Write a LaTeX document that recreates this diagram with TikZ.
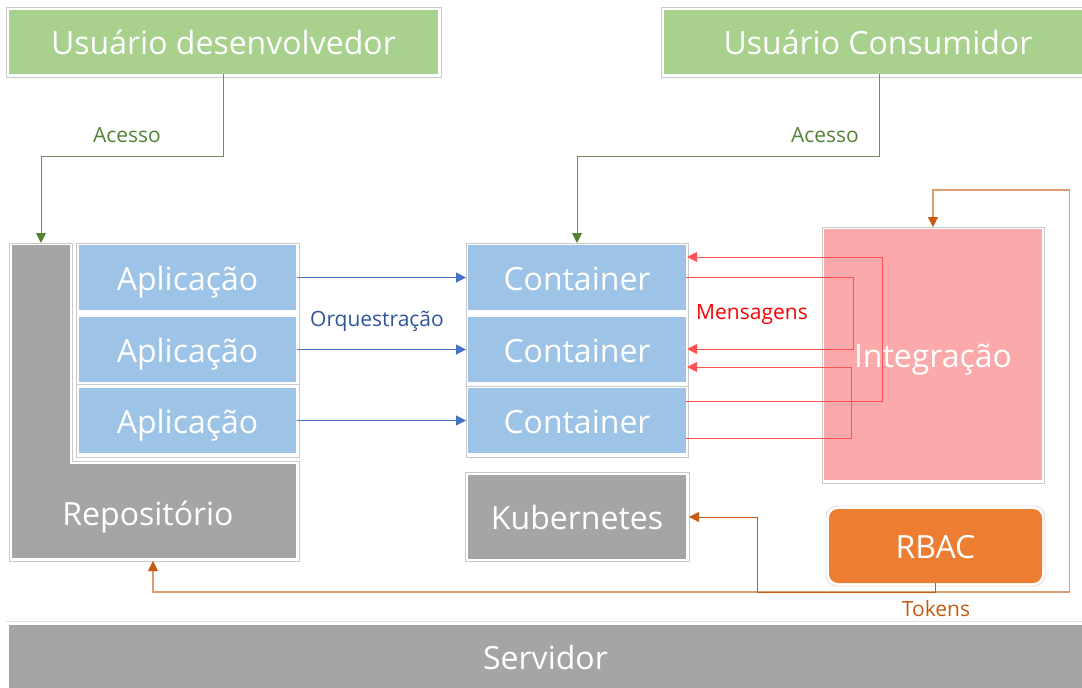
\documentclass[tikz,border=0pt]{standalone}
\usepackage{fontspec}
\setmainfont{Open Sans}
\usetikzlibrary{arrows.meta}

\definecolor{usergreen}{HTML}{A9D18E}
\definecolor{appblue}{HTML}{9DC3E6}
\definecolor{basegray}{HTML}{A5A5A5}
\definecolor{integpink}{HTML}{FBA9AA}
\definecolor{rbacorange}{HTML}{ED7D31}
\definecolor{framegray}{HTML}{C9C9C9}
\definecolor{accline}{HTML}{6F8C57}
\definecolor{acctext}{HTML}{548235}
\definecolor{orchline}{HTML}{4472C4}
\definecolor{orchtext}{HTML}{2F5597}
\definecolor{msgline}{HTML}{FF5353}
\definecolor{msgtext}{HTML}{FF0000}
\definecolor{tokline}{HTML}{DC9D74}
\definecolor{tokdark}{HTML}{C55A11}

\newcommand\bigfont{\fontsize{32}{38}\selectfont}
\newcommand\smallfont{\fontsize{21}{25}\selectfont}

\tikzset{
  fillbox/.style={inner sep=0pt, outer sep=0pt, text=white, font=\bigfont,
    text height=30pt, text depth=5pt},
  frameline/.style={draw=framegray, line width=0.9pt},
  lbl/.style={inner sep=0pt, font=\smallfont, text height=15pt, text depth=0pt},
  tip/.style={-{Triangle[length=10pt,width=10pt]}},
  acc/.style={draw=accline, line width=1pt, arrows={-{Triangle[length=10pt,width=10pt,color=acctext]}}},
  orch/.style={draw=orchline, line width=1pt, tip},
  msg/.style={draw=msgline, line width=1pt, tip},
  tok/.style={draw=tokline, line width=1.1pt},
  tokarrow/.style={draw=tokdark, line width=1pt, tip},
}

\begin{document}
\begin{tikzpicture}[x=1pt,y=-1pt]
\useasboundingbox (0,0) rectangle (1082,688);
\clip (0,0) rectangle (1082,688);

% ---------- outlines behind the boxes ----------
\draw[frameline] (6,7) rectangle (441,77);
\draw[frameline] (661,7) rectangle (1090,77);
\draw[frameline] (9,243) -- (72,243) -- (72,461) -- (299,461) -- (299,561) -- (9,561) -- cycle;
\draw[frameline] (76,243) rectangle (299,384);
\draw[frameline] (76,384) rectangle (299,457);
\draw[frameline] (466,243) rectangle (688,386);
\draw[frameline] (466,386) rectangle (688,457);
\draw[frameline] (465,472) rectangle (689,561);
\draw[frameline] (822,227) rectangle (1044,483);
\draw[draw=framegray!60, line width=0.9pt, rounded corners=11pt] (826,506) rectangle (1045,586);
\draw[draw=framegray!60, line width=1pt] (6,621) -- (1090,621);

% ---------- users ----------
\node[fillbox, fill=usergreen, minimum width=429pt, minimum height=64pt] (dev) at (223.5,42) {Usuário desenvolvedor};
\node[fillbox, fill=usergreen, minimum width=418pt, minimum height=64pt] (cons) at (873,42) {\hspace*{10pt}Usuário Consumidor};

% ---------- repository (L shape) ----------
\node[fillbox, fill=basegray, minimum width=58pt, minimum height=219pt] (repostrip) at (41,354.5) {};
\node[fillbox, fill=basegray, minimum width=284pt, minimum height=94pt] (repo) at (154,511) {};
\node[lbl, font=\bigfont, text=white, text height=22pt] (repolabel) at (148,514) {Repositório};

% ---------- applications ----------
\foreach \i/\y in {1/277.5, 2/349.5, 3/420.5}{
  \node[fillbox, fill=appblue, minimum width=217pt, minimum height=65pt] (app\i) at (187.5,\y) {Aplicação};
  \node[fillbox, fill=appblue, minimum width=218pt, minimum height=65pt] (cont\i) at (577,\y) {Container};
}

% ---------- platform ----------
\node[fillbox, fill=basegray, minimum width=218pt, minimum height=84pt] (kube) at (577,517) {Kubernetes};
\node[fillbox, fill=integpink, minimum width=218pt, minimum height=251pt] (integ) at (933,354.5) {Integração};
\node[fillbox, fill=rbacorange, rounded corners=9pt, minimum width=213pt, minimum height=74pt] (rbac) at (935.5,546) {RBAC};
\node[fillbox, fill=basegray, minimum width=1073pt, minimum height=63pt] (serv) at (545.5,656.5) {Servidor};

% ---------- access ----------
\draw[acc] (dev.south) -- ++(0,82) -| ([yshift=2pt]repostrip.north);
\node[lbl, text=acctext] (acc1) at (127,135) {Acesso};
\draw[acc] ([xshift=6pt]cons.south) -- ++(0,82) -| ([yshift=2pt]cont1.north);
\node[lbl, text=acctext] (acc2) at (825,135) {Acesso};

% ---------- orchestration ----------
\foreach \i in {1,2,3}{
  \draw[orch] ([xshift=1pt]app\i.east) -- ([xshift=-2pt]cont\i.west);
}
\node[lbl, text=orchtext] (orchlabel) at (377,319) {Orquestração};

% ---------- messages ----------
\draw[msg] ([yshift=19.5pt]cont3.east) -- ++(196,0) |- ([xshift=1pt,yshift=20.5pt]cont1.east);
\draw[msg] ([yshift=0.5pt]cont1.east) -- ++(167,0) |- ([xshift=1pt,yshift=0.5pt]cont2.east);
\draw[msg] ([yshift=-17.5pt]cont3.east) -- ++(165,0) |- ([xshift=1pt,yshift=-17.5pt]cont2.east);
\node[lbl, text=msgtext] (msglabel) at (752,312) {Mensagens};

% ---------- tokens ----------
\draw[tok] (rbac.south) -- ++(0,9) -| ([xshift=-1pt,yshift=-12pt]repo.south);
\draw[tok] (rbac.south) -- ++(0,9) -- ++(134,0) |- ([yshift=39pt]integ.north) -- ([yshift=12pt]integ.north);
\draw[tokarrow] ([xshift=-1pt,yshift=-12pt]repo.south) -- ([xshift=-1pt,yshift=-3pt]repo.south);
\draw[tokarrow] ([yshift=12pt]integ.north) -- ([yshift=2pt]integ.north);
\draw[tokarrow] (rbac.south) -- ++(0,9) -| ([xshift=71pt]kube.east) -- ([xshift=3pt]kube.east);
\node[lbl, text=tokdark] (toklabel) at (936,609) {Tokens};

\end{tikzpicture}
\end{document}
